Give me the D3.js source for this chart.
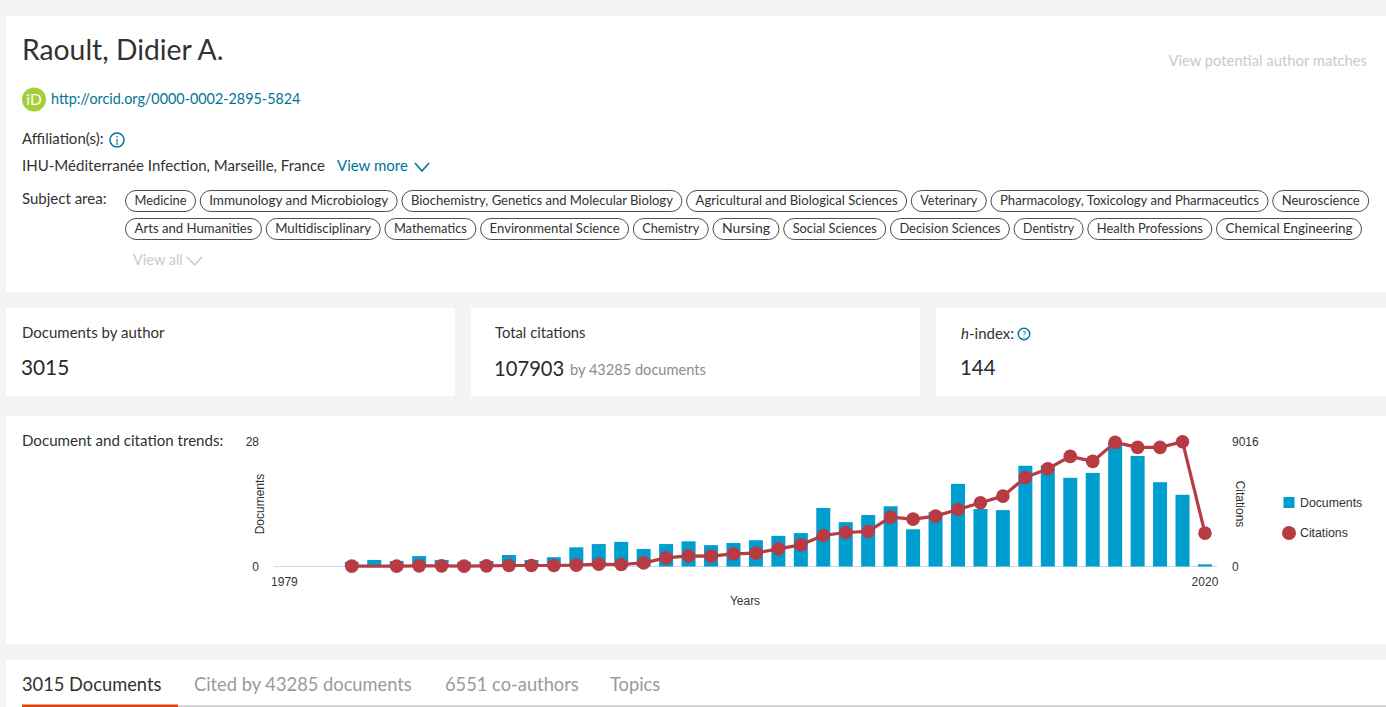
<!DOCTYPE html>
<html><head><meta charset="utf-8">
<script src="https://cdnjs.cloudflare.com/ajax/libs/d3/7.8.5/d3.min.js"></script>
<style>html,body{margin:0;padding:0;background:#f4f4f4;overflow:hidden}svg{display:block}</style>
</head><body><svg id="c" width="1386" height="707"></svg>
<script>
const years=[1979,1980,1981,1982,1983,1984,1985,1986,1987,1988,1989,1990,1991,1992,1993,1994,1995,1996,1997,1998,1999,2000,2001,2002,2003,2004,2005,2006,2007,2008,2009,2010,2011,2012,2013,2014,2015,2016,2017,2018,2019,2020];
const documents=[0,0,0,8,12,10,19,12,8,10,21,12,17,35,41,45,32,41,46,39,43,48,56,61,107,81,94,110,68,99,151,105,103,184,185,162,171,227,202,154,131,4];
const citations=[null,null,null,24,null,24,48,48,24,48,72,72,72,96,169,145,265,627,771,747,916,964,1277,1566,2241,2458,2531,3567,3422,3639,4121,4603,5085,6435,7062,7954,7592,8966,8604,8604,9016,2410];
const subjectsRow1=["Medicine","Immunology and Microbiology","Biochemistry, Genetics and Molecular Biology","Agricultural and Biological Sciences","Veterinary","Pharmacology, Toxicology and Pharmaceutics","Neuroscience"];
const subjectsRow2=["Arts and Humanities","Multidisciplinary","Mathematics","Environmental Science","Chemistry","Nursing","Social Sciences","Decision Sciences","Dentistry","Health Professions","Chemical Engineering"];
const tabs=["3015 Documents","Cited by 43285 documents","6551 co-authors","Topics"];
const docTickLabels=["0","28"];
const citeTickLabels=["0","9016"];
const xTickLabels=[1979,2020];
// pill layout, kept apart from the text lists
const pillWidths1=[71,198,281,221,76,278,97];
const pillWidths2=[137,115,92,149,76,67,103,120,70,125,146];

const PF='Lato, "Noto Sans", sans-serif', CF='"Liberation Sans", Arial, sans-serif';
const INK='#323232', TEAL='#007398', GREY='#c9c9c9';
const svg=d3.select('#c');
function rect(x,y,w,h,f){return svg.append('rect').attr('x',x).attr('y',y).attr('width',w).attr('height',h).attr('fill',f)}
function text(s,x,y,size,fill,font,anchor){return svg.append('text').text(s).attr('x',x).attr('y',y).attr('font-size',size).attr('fill',fill||INK).attr('font-family',font||PF).attr('text-anchor',anchor||'start')}
function chevron(x,y,w,h,c,sw){svg.append('path').attr('d',`M${x},${y}l${w/2},${h}l${w/2},${-h}`).attr('fill','none').attr('stroke',c).attr('stroke-width',sw||1.5)}

rect(6,16,1380,276,'#fff');
rect(6,308,449,88,'#fff');rect(471,308,449,88,'#fff');rect(936,308,450,88,'#fff');
rect(6,416,1380,228,'#fff');
rect(6,660,1380,47,'#fff');

text('Raoult, Didier A.',22,60,28.3);
text('View potential author matches',1367,66,14.8,GREY,PF,'end');
svg.append('circle').attr('cx',34).attr('cy',99.5).attr('r',12).attr('fill','#a6ce39');
text('iD',34,105,15.5,'#fff',PF,'middle');
text('http://orcid.org/0000-0002-2895-5824',51,104,14.35,TEAL);
text('Affiliation(s):',22,144,15);
svg.append('circle').attr('cx',117).attr('cy',140).attr('r',7).attr('fill','none').attr('stroke',TEAL).attr('stroke-width',1.5);
text('i',117,144.5,12,TEAL,PF,'middle');
text('IHU-Méditerranée Infection, Marseille, France',22,171,15.05);
text('View more',337,171,15,TEAL);
chevron(415,163,14,8,TEAL);
text('Subject area:',22,204,15);
function pills(list,widths,y){
  let x=125;
  list.forEach((s,i)=>{
    const w=widths[i];
    svg.append('rect').attr('x',x+.5).attr('y',y+.5).attr('width',w-1).attr('height',21).attr('rx',10.5).attr('fill','#fff').attr('stroke','#4f4f4f');
    text(s,x+9.5,y+15,13).attr('textLength',w-19).attr('lengthAdjust','spacingAndGlyphs');
    x+=w+3.7;
  });
}
pills(subjectsRow1,pillWidths1,190);pills(subjectsRow2,pillWidths2,218);
text('View all',133,265,14.5,GREY);
chevron(187,257,15,8,GREY);

text('Documents by author',22,338,15);
text('3015',21,375,20.8,'#2a2a2a');
text('Total citations',495,338,14.8);
text('107903',494,376,20.2,'#2a2a2a');
text('by 43285 documents',570,375,14.6,'#8c8c8c');
text('h',961,338.5,15).attr('font-style','italic');
text('-index:',969,338.5,15);
svg.append('circle').attr('cx',1024).attr('cy',334).attr('r',5.7).attr('fill','none').attr('stroke',TEAL).attr('stroke-width',1.5);
text('?',1024,337.5,9,TEAL,PF,'middle');
text('144',960,375,20.4,'#2a2a2a');
text('Document and citation trends:',22,446,15.1);

// chart
const x=d3.scaleBand().domain(years).range([273.2,1216.2]).paddingInner(0.376).paddingOuter(0.188);
const yD=d3.scaleLinear().domain([0,228]).range([566.5,441.7]);
const yC=d3.scaleLinear().domain([0,9016]).range([566.5,441.7]);
const cx=y=>x(y)+x.bandwidth()/2;
const BLUE='#009ecf', RED='#b83a42';
svg.append('line').attr('x1',274).attr('x2',1217).attr('y1',566.5).attr('y2',566.5).attr('stroke','#ccd6eb');
svg.append('g').selectAll('rect').data(years.map((y,i)=>({y,v:documents[i]})).filter(d=>d.v>0)).join('rect')
 .attr('x',d=>x(d.y)).attr('width',x.bandwidth()).attr('y',d=>yD(d.v)).attr('height',d=>yD(0)-yD(d.v)).attr('fill',BLUE);
const pts=years.map((y,i)=>({y,v:citations[i]})).filter(d=>d.v!==null);
svg.append('path').datum(pts).attr('fill','none').attr('stroke',RED).attr('stroke-width',3.2).attr('stroke-linejoin','round')
 .attr('d',d3.line().x(d=>cx(d.y)).y(d=>yC(d.v)));
svg.append('g').selectAll('circle').data(pts).join('circle').attr('cx',d=>cx(d.y)).attr('cy',d=>yC(d.v)).attr('r',6.8).attr('fill',RED);
docTickLabels.forEach((s,i)=>text(s,259,[566.5,441.7][i]+4.5,12,'#333',CF,'end'));
citeTickLabels.forEach((s,i)=>text(s,1232,[566.5,441.7][i]+4.5,12,'#333',CF,'start'));
xTickLabels.forEach(y=>text(y,cx(y),586,12,'#333',CF,'middle'));
text('Years',745,604.5,12,'#333',CF,'middle');
text('Documents',0,0,12,'#333',CF,'middle').attr('transform','translate(264,504) rotate(-90)');
text('Citations',0,0,12,'#333',CF,'middle').attr('transform','translate(1236,504) rotate(90)');
rect(1283.5,497,11,11,BLUE);
text('Documents',1300,507,12.3,'#333',CF);
svg.append('circle').attr('cx',1289).attr('cy',533).attr('r',7).attr('fill',RED);
text('Citations',1300,537,12.3,'#333',CF);

// tabs
rect(22,705,1364,2,'#d5d5d5');
rect(22,704.5,156,2.5,'#d8450f');
[[22,INK],[194,'#9a9a9a'],[445,'#9a9a9a'],[610,'#9a9a9a']].forEach((p,i)=>text(tabs[i],p[0],691,18.3,p[1]));
</script></body></html>
